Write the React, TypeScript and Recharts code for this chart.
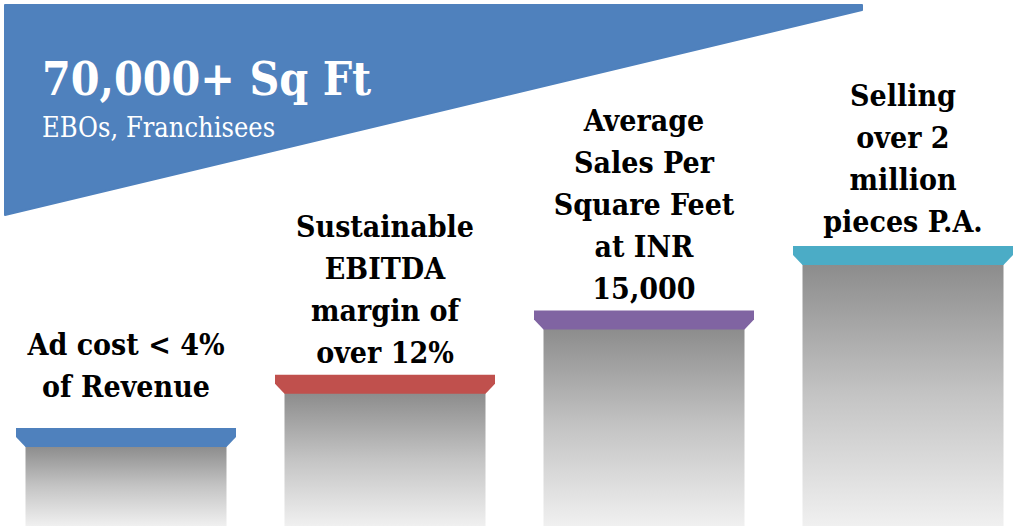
import { BarChart, Bar, XAxis, YAxis, LabelList } from "recharts";

// podium heights (relative, tallest = 100)
const categories = ["Ad cost", "EBITDA", "Sales per sq ft", "Pieces"];
const heights = [35, 54, 77, 100];
const labelLines: string[][] = [
  ["Ad cost < 4%", "of Revenue"],
  ["Sustainable", "EBITDA", "margin of", "over 12%"],
  ["Average", "Sales Per", "Square Feet", "at INR", "15,000"],
  ["Selling", "over 2", "million", "pieces P.A."],
];
const headline = "70,000+ Sq Ft";
const subline = "EBOs, Franchisees";

const CAP_COLORS = ["#4f81bd", "#c0504d", "#8064a2", "#4bacc6"];
// distance from last text baseline to the cap top
const LABEL_GAP = [31, 12, 11, 14];
const LINE_H = 42;
const FONT = "'DejaVu Serif Condensed', 'DejaVu Serif', 'Liberation Serif', serif";

const data = categories.map((name, i) => ({ name, value: heights[i] }));

const Podium = (props: any) => {
  const { x, y, width, height, index } = props;
  const inset = 9.5;
  const capH = 18;
  const cap = [
    [x, y],
    [x + width, y],
    [x + width, y + 9],
    [x + width - inset, y + capH + 1],
    [x + inset, y + capH + 1],
    [x, y + 9],
  ]
    .map((p) => p.join(","))
    .join(" ");
  return (
    <g>
      <rect
        x={x + inset}
        y={y + capH}
        width={width - inset * 2}
        height={height - capH}
        fill="url(#podiumGrad)"
      />
      <polygon points={cap} fill={CAP_COLORS[index]} />
    </g>
  );
};

const PodiumLabel = (props: any) => {
  const { x, y, width, index } = props;
  const lines = labelLines[index] || [];
  const cx = x + width / 2;
  const last = y - LABEL_GAP[index];
  return (
    <text
      textAnchor="middle"
      fontFamily={FONT}
      fontWeight="bold"
      fontSize={30}
      fill="#000"
    >
      {lines.map((l, i) => (
        <tspan key={i} x={cx} y={last - (lines.length - 1 - i) * LINE_H}>
          {l}
        </tspan>
      ))}
    </text>
  );
};

export default function App() {
  return (
    <div
      style={{
        position: "fixed",
        left: 0,
        top: 0,
        width: 1015,
        height: 531,
        overflow: "hidden",
        background: "#fff",
      }}
    >
      <div style={{ position: "absolute", left: -4, top: 0 }}>
        <BarChart
          width={1036}
          height={531}
          data={data}
          margin={{ top: 246, right: 0, bottom: 5, left: 0 }}
        >
          <defs>
            <linearGradient id="podiumGrad" x1="0" y1="0" x2="0" y2="1">
              <stop offset="0%" stopColor="#8c8c8c" />
              <stop offset="50%" stopColor="#c4c4c4" />
              <stop offset="100%" stopColor="#f0f0f0" />
            </linearGradient>
          </defs>
          <XAxis dataKey="name" hide />
          <YAxis hide domain={[0, 100]} />
          <Bar
            dataKey="value"
            barSize={220}
            shape={Podium}
            isAnimationActive={false}
          >
            <LabelList dataKey="value" content={PodiumLabel} />
          </Bar>
        </BarChart>
      </div>
      <svg
        width={1015}
        height={231}
        style={{ position: "absolute", left: 0, top: 0 }}
      >
        <polygon
          points="5,5 862,5 862,10 5,215"
          fill="#4f81bd"
          stroke="#4f81bd"
          strokeWidth={2}
          strokeLinejoin="round"
        />
        <text
          x={42}
          y={95}
          fill="#fff"
          fontFamily={FONT}
          fontWeight="bold"
          fontSize={46}
        >
          {headline}
        </text>
        <text x={42} y={137} fill="#fff" fontFamily={FONT} fontSize={27}>
          {subline}
        </text>
      </svg>
    </div>
  );
}
